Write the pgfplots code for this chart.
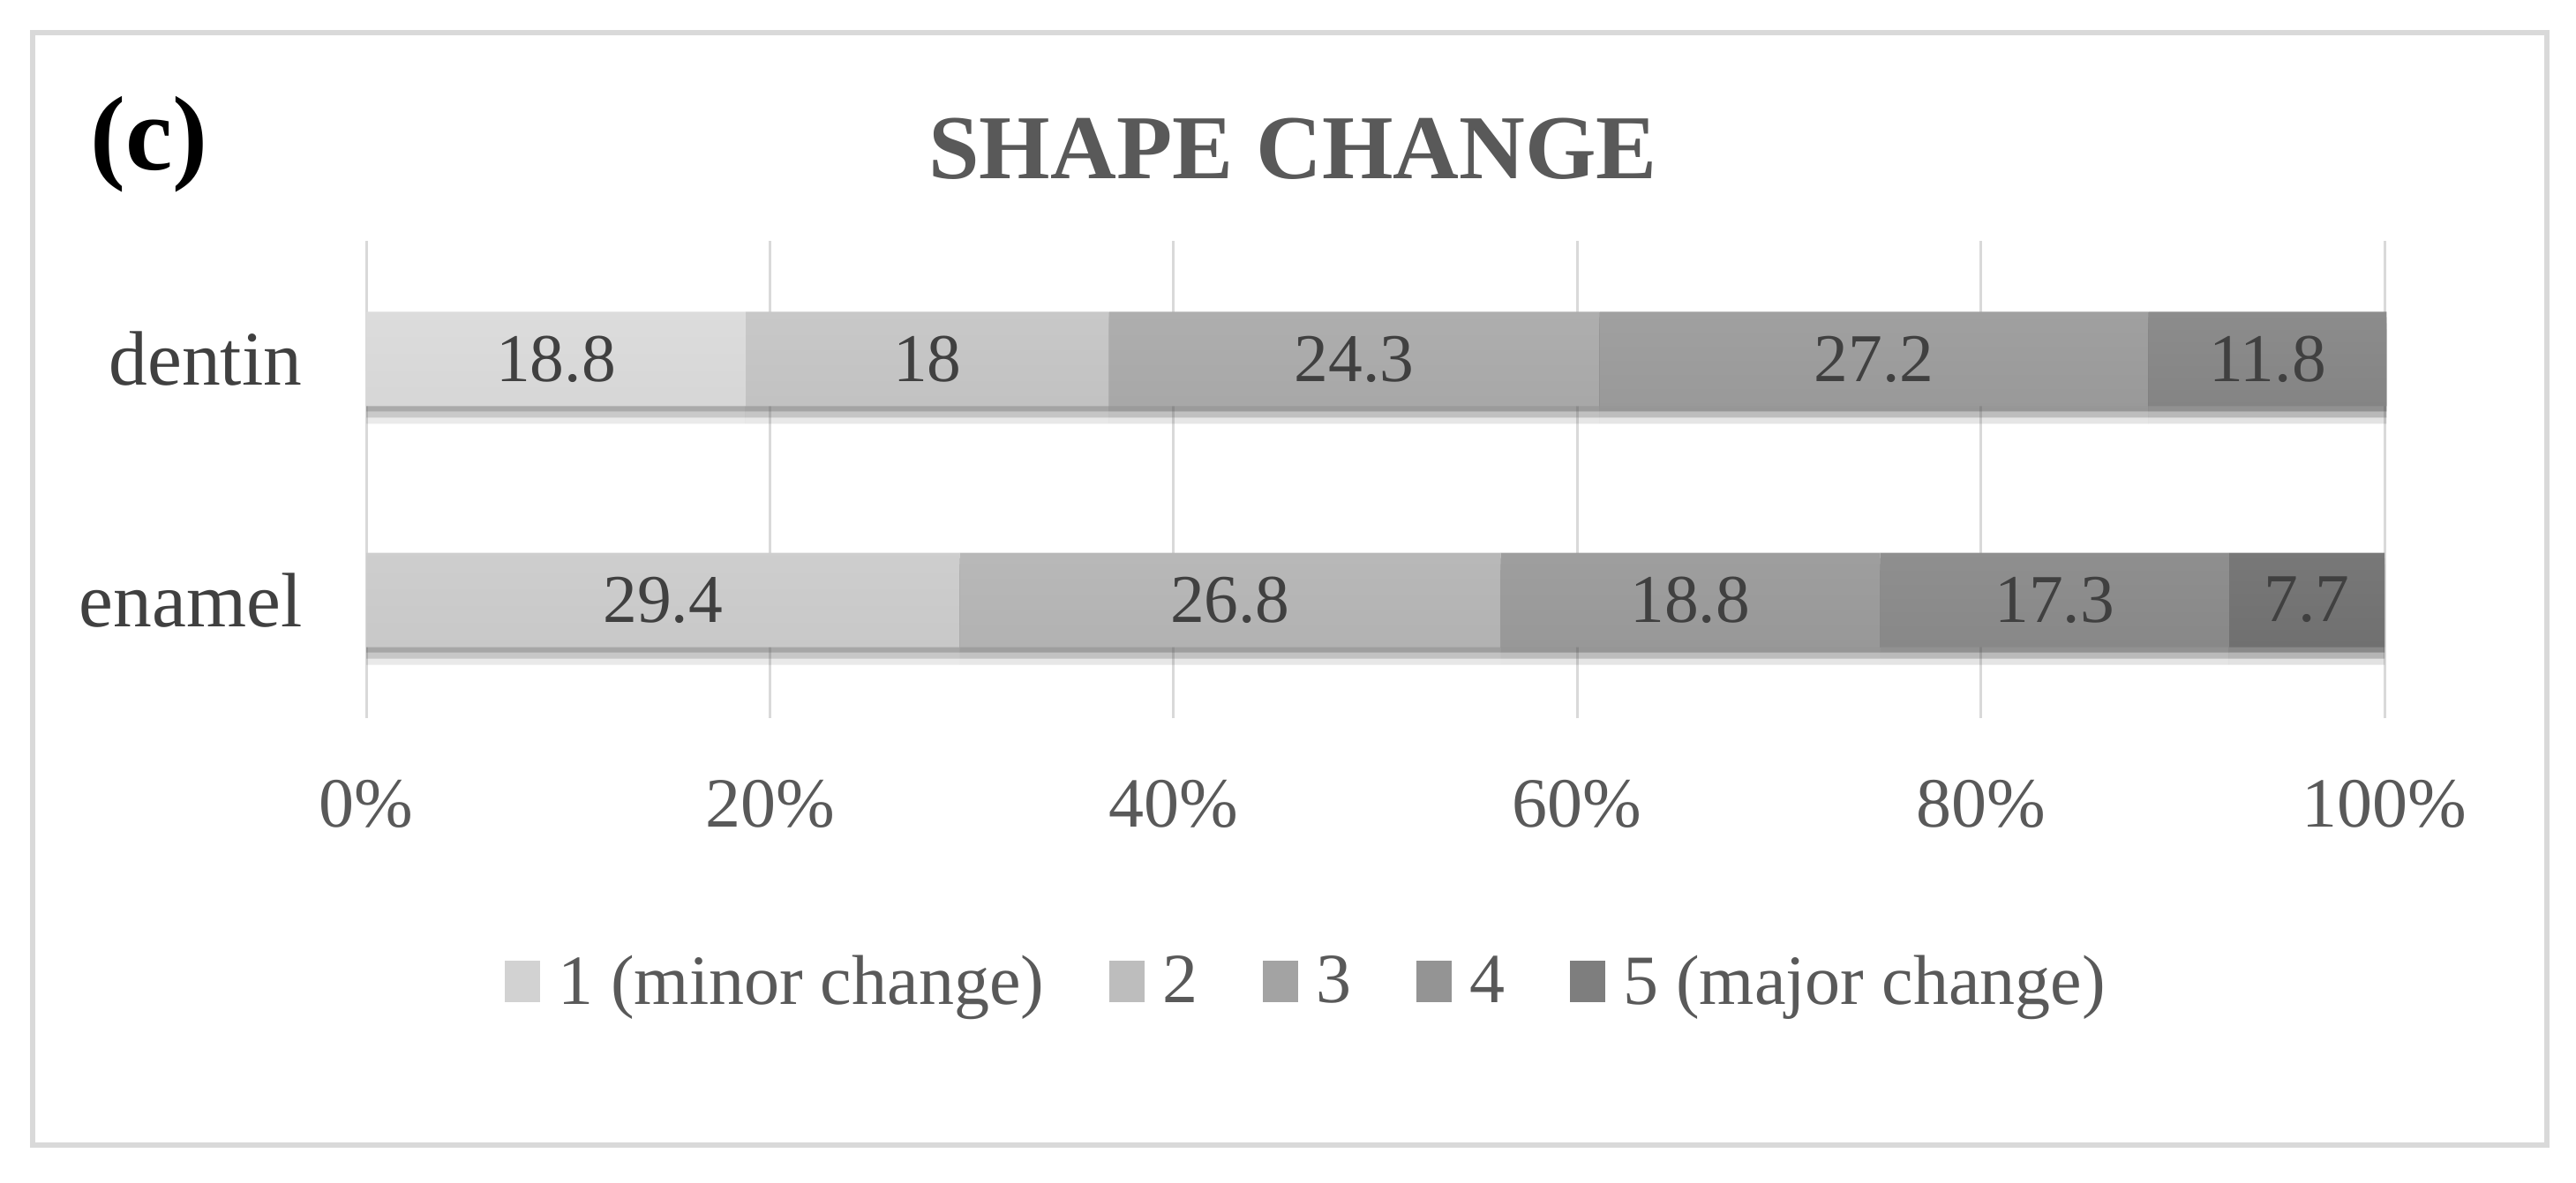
\documentclass[border=0pt]{standalone}
\usepackage{fontspec}
\setmainfont{Liberation Serif}
\usepackage{pgfplots}
\pgfplotsset{compat=1.18}
\usepackage{pgfplotstable}
\usetikzlibrary{shadows}

\definecolor{sAt}{HTML}{DCDCDC}\definecolor{sAb}{HTML}{C8C8C8}\definecolor{sAm}{HTML}{D2D2D2}
\definecolor{sBt}{HTML}{C8C8C8}\definecolor{sBb}{HTML}{B2B2B2}\definecolor{sBm}{HTML}{BDBDBD}
\definecolor{sCt}{HTML}{AEAEAE}\definecolor{sCb}{HTML}{989898}\definecolor{sCm}{HTML}{A3A3A3}
\definecolor{sDt}{HTML}{A0A0A0}\definecolor{sDb}{HTML}{888888}\definecolor{sDm}{HTML}{949494}
\definecolor{sEt}{HTML}{8C8C8C}\definecolor{sEb}{HTML}{707070}\definecolor{sEm}{HTML}{7E7E7E}
\definecolor{txtgray}{HTML}{595959}
\definecolor{lblgray}{HTML}{404040}
\definecolor{gridgray}{HTML}{D9D9D9}

% pos: 0 = enamel, 1 = dentin
\pgfplotstableread{
pos s1   s2   s3   s4   s5
0   29.4 26.8 18.8 17.3 7.7
1   18.8 18   24.3 27.2 11.8
}\shapedata

\pgfplotsset{
  seg/.style n args={3}{
    draw=none, top color=#1, bottom color=#2,
    drop shadow={shadow xshift=0pt, shadow yshift=-1.2pt, opacity=0.2, fill=black},
    drop shadow={shadow xshift=0pt, shadow yshift=-2.6pt, opacity=0.14, fill=black},
    drop shadow={shadow xshift=0pt, shadow yshift=-4pt, opacity=0.08, fill=black},
    legend image code/.code={%
      \pgfpathmoveto{\pgfpoint{0pt}{11.5pt}}\pgfusepath{discard}%
      \pgfpathrectangle{\pgfpoint{0pt}{-4.4pt}}{\pgfpoint{8pt}{9.4pt}}%
      \pgfsetfillcolor{#3}\pgfusepath{fill}},
  },
}

\begin{document}
\begin{tikzpicture}
\useasboundingbox (0,0) rectangle (583.8pt,-268pt);
\draw[color=gray!30, line width=1.2pt] (7.4pt,-7.4pt) rectangle (577.2pt,-259.6pt);
\node[anchor=base west, font=\fontsize{24}{28}\selectfont\bfseries] at (17pt,-38.4pt) {(c)};
\node[anchor=base, font=\fontsize{20.7}{24}\selectfont\bfseries, text=txtgray] at (293pt,-40.4pt) {SHAPE CHANGE};

\begin{axis}[
  at={(83pt,-162.8pt)}, anchor=south west,
  scale only axis, width=457.4pt, height=108.2pt,
  xbar stacked, bar width=21.4pt, clip=false,
  xmin=0, xmax=100, ymin=-0.49, ymax=1.49,
  ytick={0,1}, yticklabels={enamel,dentin},
  xtick={0,20,40,60,80,100},
  xticklabels={0\%,20\%,40\%,60\%,80\%,100\%},
  xmajorgrids, grid style={draw=gridgray, line width=0.6pt},
  axis line style={draw=none}, major tick length=0pt,
  xticklabel style={font=\fontsize{16}{19}\selectfont, text=txtgray, yshift=-10.5pt},
  yticklabel style={font=\fontsize{17.5}{21}\selectfont, text=lblgray, xshift=-11pt},
  point meta=explicit,
  nodes near coords={\pgfmathprintnumber[assume math mode=true]{\pgfplotspointmeta}},
  every node near coord/.append style={anchor=center,
    font=\fontsize{15.5}{18}\selectfont, text=lblgray},
  legend columns=5,
  legend style={at={(0.4674,-0.54)}, anchor=center, draw=none, fill=none,
    font=\fontsize{16}{19}\selectfont, text=txtgray,
    /tikz/every odd column/.append style={column sep=2pt},
    /tikz/every even column/.append style={column sep=12.8pt}},
]
\addplot[seg={sAt}{sAb}{sAm}] table[x=s1, y=pos, meta=s1] {\shapedata};
\addlegendentry{1 (minor change)}
\addplot[seg={sBt}{sBb}{sBm}] table[x=s2, y=pos, meta=s2] {\shapedata};
\addlegendentry{2}
\addplot[seg={sCt}{sCb}{sCm}] table[x=s3, y=pos, meta=s3] {\shapedata};
\addlegendentry{3}
\addplot[seg={sDt}{sDb}{sDm}] table[x=s4, y=pos, meta=s4] {\shapedata};
\addlegendentry{4}
\addplot[seg={sEt}{sEb}{sEm}] table[x=s5, y=pos, meta=s5] {\shapedata};
\addlegendentry{5 (major change)}
\end{axis}
\end{tikzpicture}
\end{document}
